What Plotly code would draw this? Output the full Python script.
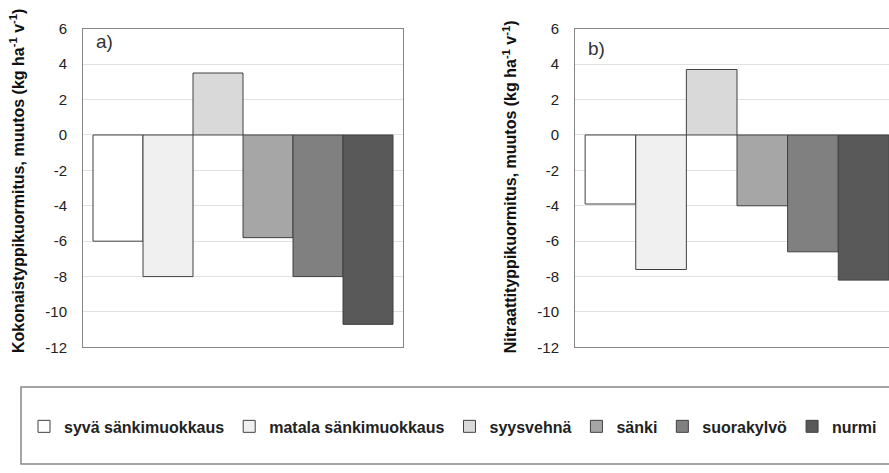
import plotly.graph_objects as go

W, H = 889, 473

series = ["syvä sänkimuokkaus", "matala sänkimuokkaus", "syysvehnä", "sänki", "suorakylvö", "nurmi"]
colors = ["#ffffff", "#f0f0f0", "#d9d9d9", "#a6a6a6", "#808080", "#595959"]
total_n = [-6.0, -8.0, 3.5, -5.8, -8.0, -10.7]
nitrate_n = [-3.9, -7.6, 3.7, -4.0, -6.6, -8.2]
yticks = [-12, -10, -8, -6, -4, -2, 0, 2, 4, 6]
ytick_labels = ["-12", "-10", "-8", "-6", "-4", "-2", "0", "2", "4", "6"]
category = ["muutos"]

FONT = "Liberation Sans, Arial, sans-serif"
fig = go.Figure()

for i, name in enumerate(series):
    fig.add_trace(go.Bar(
        x=category, y=[total_n[i]], name=name, legendgroup=name,
        marker=dict(color=colors[i], line=dict(color="#404040", width=1)),
        xaxis="x", yaxis="y", showlegend=True))
for i, name in enumerate(series):
    fig.add_trace(go.Bar(
        x=category, y=[nitrate_n[i]], name=name, legendgroup=name,
        marker=dict(color=colors[i], line=dict(color="#404040", width=1)),
        xaxis="x2", yaxis="y2", showlegend=False))

ydom = [1 - 351 / H, 1 - 20.5 / H]
axis_line = "#868686"
grid = "#e0e0e0"

common_y = dict(range=[-12, 6], tickvals=yticks, ticktext=ytick_labels, showgrid=True,
                gridcolor=grid, gridwidth=1,
                zeroline=False, showline=True, linecolor=axis_line, linewidth=1,
                ticks="", tickfont=dict(family=FONT, size=15, color="#222"),
                ticklabelstandoff=12, domain=ydom)

fig.update_layout(
    width=W, height=H,
    margin=dict(l=0, r=0, t=0, b=0),
    paper_bgcolor="white", plot_bgcolor="white",
    barmode="group", bargap=0.0625, bargroupgap=0,
    font=dict(family=FONT, color="#222"),
    xaxis=dict(domain=[83 / W, 403 / W], range=[-0.5, 0.5], showticklabels=False,
               showgrid=False, zeroline=False, showline=True, mirror=True,
               linecolor=axis_line, linewidth=1, ticks="", anchor="y"),
    yaxis=dict(anchor="x", mirror=True, **common_y),
    xaxis2=dict(domain=[575 / W, 1.0], range=[-0.5, -0.5 + 314 / 324], showticklabels=False,
                showgrid=False, zeroline=False, showline=True, mirror=True,
                linecolor=axis_line, linewidth=1, ticks="", anchor="y2"),
    yaxis2=dict(anchor="x2", mirror=False, **common_y),
    legend=dict(orientation="h", x=24 / W, xanchor="left", y=1 - 433 / H, yanchor="middle",
                font=dict(family=FONT, size=16, color="#222", weight="bold"),
                bgcolor="rgba(0,0,0,0)", borderwidth=0, traceorder="normal"),
    shapes=[dict(type="rect", xref="paper", yref="paper",
                 x0=21 / W, x1=1.1, y0=1 - 472 / H, y1=1 - 392 / H,
                 line=dict(color="#888888", width=1.5), fillcolor="rgba(0,0,0,0)", layer="below")],
    annotations=[
        dict(text="<b>Kokonaistyppikuormitus, muutos (kg ha<sup>-1</sup> v<sup>-1</sup>)</b>",
             xref="paper", yref="paper", x=16.5 / W, y=1 - 179 / H, textangle=-90,
             showarrow=False, font=dict(family=FONT, size=16, color="#111"),
             xanchor="center", yanchor="middle"),
        dict(text="<b>Nitraattityppikuormitus, muutos (kg ha<sup>-1</sup> v<sup>-1</sup>)</b>",
             xref="paper", yref="paper", x=510 / W, y=1 - 185 / H, textangle=-90,
             showarrow=False, font=dict(family=FONT, size=16, color="#111"),
             xanchor="center", yanchor="middle"),
        dict(text="a)", xref="paper", yref="paper", x=94 / W, y=1 - 34 / H,
             xanchor="left", yanchor="middle", showarrow=False,
             font=dict(family=FONT, size=19, color="#333")),
        dict(text="b)", xref="paper", yref="paper", x=586 / W, y=1 - 41 / H,
             xanchor="left", yanchor="middle", showarrow=False,
             font=dict(family=FONT, size=19, color="#333")),
    ],
)

fig.write_html("out.html")
